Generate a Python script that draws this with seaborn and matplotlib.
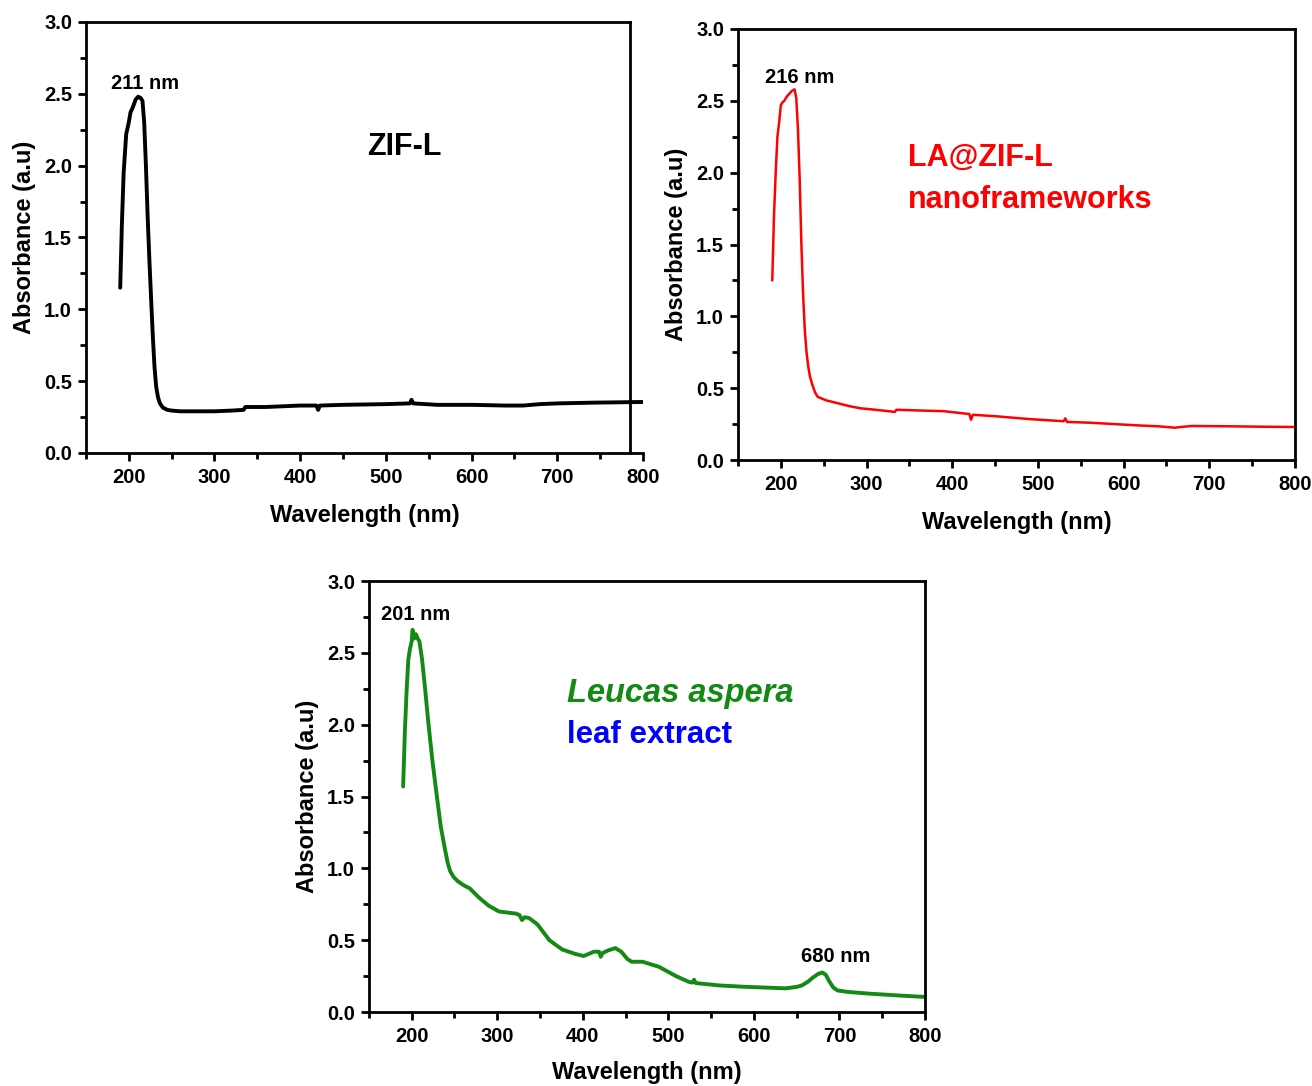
import matplotlib
matplotlib.use("Agg")
import matplotlib.pyplot as plt
import seaborn as sns
import pandas as pd
from matplotlib.ticker import MultipleLocator, FormatStrFormatter

# ---------------- data ----------------
wl_zif = [190, 192, 194, 197, 200, 202, 205, 208, 211, 214, 216, 218, 220, 222, 224,
          226, 228, 230, 232, 234, 236, 238, 240, 245, 250, 260, 280, 300, 320, 334,
          336, 360, 400, 419, 421, 423, 450, 500, 528, 530, 532, 560, 600, 640, 660,
          680, 700, 740, 800]
abs_zif = [1.15, 1.6, 1.95, 2.22, 2.3, 2.37, 2.41, 2.46, 2.48, 2.47, 2.45, 2.3, 2.0, 1.65, 1.35,
           1.08, 0.82, 0.6, 0.46, 0.39, 0.35, 0.33, 0.315, 0.30, 0.295, 0.29, 0.29, 0.29, 0.295, 0.30,
           0.32, 0.32, 0.33, 0.33, 0.30, 0.33, 0.335, 0.34, 0.345, 0.37, 0.345, 0.335, 0.335, 0.33, 0.33,
           0.34, 0.345, 0.35, 0.355]

wl_la = [190, 192, 194, 196, 198, 200, 202, 204, 207, 210, 213, 216, 218, 220, 222,
         224, 226, 228, 230, 232, 234, 237, 240, 243, 247, 253, 260, 270, 280, 293,
         310, 333, 335, 360, 390, 420, 422, 424, 450, 490, 530, 532, 534, 560, 590,
         620, 640, 660, 670, 680, 720, 760, 800]
abs_la = [1.25, 1.7, 2.0, 2.25, 2.35, 2.47, 2.49, 2.5, 2.53, 2.55, 2.57, 2.58, 2.52, 2.3, 1.95,
          1.5, 1.15, 0.9, 0.75, 0.65, 0.58, 0.52, 0.47, 0.44, 0.43, 0.415, 0.405, 0.39, 0.375, 0.36,
          0.35, 0.335, 0.35, 0.345, 0.34, 0.32, 0.28, 0.315, 0.305, 0.285, 0.27, 0.29, 0.265, 0.26, 0.25,
          0.24, 0.235, 0.225, 0.232, 0.237, 0.235, 0.232, 0.23]

wl_leaf = [190, 192, 194, 196, 198, 200, 201, 203, 205, 207, 209, 212, 216, 219, 224,
           229, 234, 239, 242, 245, 249, 254, 260, 268, 278, 290, 302, 315, 322, 326,
           329, 332, 337, 347, 361, 376, 391, 401, 413, 419, 421, 423, 430, 438, 445,
           452, 457, 470, 489, 509, 524, 528, 530, 532, 538, 560, 588, 615, 637, 650,
           656, 663, 669, 675, 680, 684, 688, 693, 698, 710, 735, 770, 800]
abs_leaf = [1.57, 1.95, 2.23, 2.45, 2.53, 2.58, 2.66, 2.6, 2.63, 2.6, 2.58, 2.46, 2.23, 2.04, 1.76,
            1.52, 1.29, 1.13, 1.04, 0.98, 0.94, 0.91, 0.885, 0.86, 0.80, 0.74, 0.70, 0.69, 0.685, 0.675,
            0.64, 0.66, 0.655, 0.61, 0.50, 0.435, 0.405, 0.39, 0.42, 0.42, 0.385, 0.41, 0.43, 0.445, 0.42,
            0.37, 0.35, 0.35, 0.315, 0.25, 0.21, 0.205, 0.225, 0.202, 0.198, 0.185, 0.176, 0.17, 0.165, 0.175,
            0.185, 0.21, 0.24, 0.265, 0.275, 0.26, 0.215, 0.17, 0.15, 0.14, 0.128, 0.115, 0.105]

x_label = "Wavelength (nm)"
y_label = "Absorbance (a.u)"

# ---------------- style ----------------
sns.set_theme(style="ticks")
plt.rcParams["font.family"] = ["Liberation Sans", "DejaVu Sans"]
plt.rcParams["font.weight"] = "bold"
for k in ["text.color", "axes.labelcolor", "xtick.color", "ytick.color", "axes.edgecolor"]:
    plt.rcParams[k] = "black"

fig = plt.figure(figsize=(13.12, 10.86), dpi=100)
axA = fig.add_axes([0.0655, 0.5829, 0.4245, 0.3969])
axB = fig.add_axes([0.5625, 0.5764, 0.4245, 0.3969])
axC = fig.add_axes([0.2812, 0.0681, 0.4238, 0.3969])

GREEN = "#138a13"


def style(ax, xpad):
    ax.set_xlim(150, 800)
    ax.set_ylim(0, 3)
    ax.xaxis.set_major_locator(MultipleLocator(100))
    ax.xaxis.set_minor_locator(MultipleLocator(50))
    ax.yaxis.set_major_locator(MultipleLocator(0.5))
    ax.yaxis.set_minor_locator(MultipleLocator(0.25))
    ax.yaxis.set_major_formatter(FormatStrFormatter("%.1f"))
    ax.tick_params(which="major", direction="out", length=6, width=2, labelsize=14.5,
                   top=False, right=False)
    ax.tick_params(axis="x", which="major", pad=5)
    ax.tick_params(axis="y", which="major", pad=4)
    ax.tick_params(which="minor", direction="out", length=4, width=2, top=False, right=False)
    for s in ax.spines.values():
        s.set_linewidth(2)
        s.set_color("black")
    ax.set_xlabel(x_label, fontsize=17, fontweight="bold", labelpad=xpad)
    ax.set_ylabel(y_label, fontsize=17, fontweight="bold", labelpad=6)


def draw(ax, wl, ab, color, lw):
    df = pd.DataFrame({"wl": wl, "abs": ab})
    sns.lineplot(data=df, x="wl", y="abs", ax=ax, color=color, linewidth=lw,
                 estimator=None, sort=False)


draw(axA, wl_zif, abs_zif, "black", 2.8)
draw(axB, wl_la, abs_la, "#ff0000", 1.8)
draw(axC, wl_leaf, abs_leaf, GREEN, 2.8)
style(axA, 12)
style(axB, 12)
style(axC, 10.5)

# quirky frame of first panel: right border short of the axis end
axA.spines["right"].set_position(("data", 785))
axA.spines["top"].set_bounds(150, 785)

# ---------------- annotations ----------------
axA.text(219, 2.575, "211 nm", ha="center", va="center", fontsize=14.5, fontweight="bold")
axA.text(522, 2.13, "ZIF-L", ha="center", va="center", fontsize=22, fontweight="bold")

axB.text(222, 2.66, "216 nm", ha="center", va="center", fontsize=14.5, fontweight="bold")
axB.text(348, 2.10, "LA@ZIF-L", ha="left", va="center", fontsize=22, fontweight="bold", color="#ff0000")
axB.text(348, 1.81, "nanoframeworks", ha="left", va="center", fontsize=22, fontweight="bold", color="#ff0000")

axC.text(204, 2.77, "201 nm", ha="center", va="center", fontsize=14.5, fontweight="bold")
axC.text(696, 0.39, "680 nm", ha="center", va="center", fontsize=14.5, fontweight="bold")
axC.text(381, 2.22, "Leucas aspera", ha="left", va="center", fontsize=23.5, fontweight="bold",
         style="italic", color=GREEN)
axC.text(381, 1.93, "leaf extract", ha="left", va="center", fontsize=22.5, fontweight="bold", color="#0000ff")

fig.savefig("out.png", dpi=100, facecolor="white")
